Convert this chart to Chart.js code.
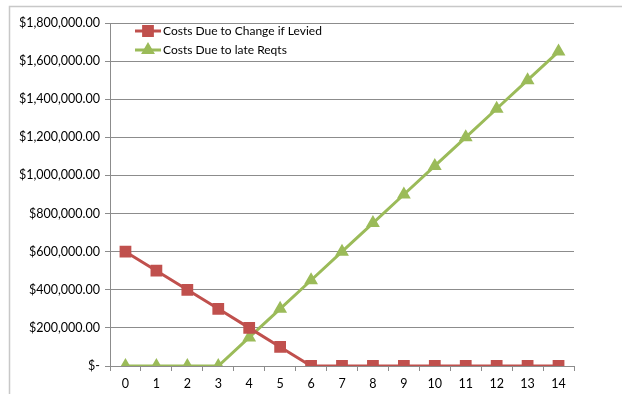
<!DOCTYPE html>
<html>
<head>
<meta charset="utf-8">
<script src="https://cdn.jsdelivr.net/npm/chart.js@4/dist/chart.umd.min.js"></script>
<style>
  html, body { margin: 0; padding: 0; background: #ffffff; }
  #wrap { position: relative; width: 622px; height: 394px; }
</style>
</head>
<body>
<div id="wrap"><canvas id="chart" width="622" height="394"></canvas></div>
<script>
// Periods (x-axis categories)
const periods = ['0','1','2','3','4','5','6','7','8','9','10','11','12','13','14'];

// Series values in dollars
const costsChangeLevied = [600000, 500000, 400000, 300000, 200000, 100000, 0, 0, 0, 0, 0, 0, 0, 0, 0];
const costsLateReqts    = [0, 0, 0, 0, 150000, 300000, 450000, 600000, 750000, 900000, 1050000, 1200000, 1350000, 1500000, 1650000];

// Series names
const seriesNames = ['Costs Due to Change if Levied', 'Costs Due to late Reqts'];

// Value axis range
const yMin = 0;
const yMax = 1800000;
const yStep = 200000;

const RED = '#C0504D';
const GREEN = '#9BBB59';
const GRID = '#8C8C8C';
const FONT = 'Lato, "Open Sans", sans-serif';

function money(v) {
  if (v === 0) return '$-';
  return '$' + v.toLocaleString('en-US', { minimumFractionDigits: 2, maximumFractionDigits: 2 });
}

// Frame around the chart (top and left edges) and the in-plot legend
const decorations = {
  id: 'decorations',
  beforeDraw(chart) {
    const ctx = chart.ctx;
    ctx.save();
    ctx.strokeStyle = '#C8C8C8';
    ctx.lineWidth = 1.5;
    ctx.beginPath();
    ctx.moveTo(9.5, 394);
    ctx.lineTo(9.5, 6.5);
    ctx.lineTo(622, 6.5);
    ctx.stroke();
    ctx.restore();
  },
  afterDatasetsDraw(chart) {
    const ctx = chart.ctx;
    ctx.save();
    const rows = [31, 50];
    chart.data.datasets.forEach((ds, i) => {
      const y = rows[i];
      ctx.strokeStyle = ds.borderColor;
      ctx.lineWidth = 3;
      ctx.beginPath();
      ctx.moveTo(135, y);
      ctx.lineTo(161, y);
      ctx.stroke();
      Chart.helpers.drawPoint(ctx, {
        pointStyle: ds.pointStyle,
        radius: ds.pointRadius,
        borderWidth: 1
      }, 148, y);
      ctx.fillStyle = ds.borderColor;
      ctx.fill();
      ctx.fillStyle = '#000000';
      ctx.font = '12px ' + FONT;
      ctx.textBaseline = 'middle';
      ctx.textAlign = 'left';
      ctx.fillText(ds.label, 163, y);
    });
    ctx.restore();
  }
};

new Chart(document.getElementById('chart'), {
  type: 'line',
  data: {
    labels: periods,
    datasets: [
      {
        label: seriesNames[0],
        data: costsChangeLevied,
        borderColor: RED,
        backgroundColor: RED,
        pointBackgroundColor: RED,
        pointBorderColor: RED,
        pointStyle: 'rect',
        pointRadius: 6.2,
        borderWidth: 3,
        tension: 0
      },
      {
        label: seriesNames[1],
        data: costsLateReqts,
        borderColor: GREEN,
        backgroundColor: GREEN,
        pointBackgroundColor: GREEN,
        pointBorderColor: GREEN,
        pointStyle: 'triangle',
        pointRadius: 5,
        borderWidth: 3,
        tension: 0
      }
    ]
  },
  options: {
    responsive: false,
    animation: false,
    layout: { padding: { left: 0, top: 23, right: 48, bottom: 0 } },
    plugins: {
      legend: { display: false },
      tooltip: { enabled: false }
    },
    scales: {
      x: {
        offset: true,
        grid: {
          offset: true,
          drawOnChartArea: false,
          drawTicks: true,
          tickLength: 5,
          color: GRID
        },
        border: { color: GRID, width: 1 },
        ticks: {
          color: '#000000',
          font: { family: FONT, size: 12.5 },
          padding: 5,
          maxRotation: 0,
          autoSkip: false
        },
        afterFit(scale) { scale.height = 28; }
      },
      y: {
        min: yMin,
        max: yMax,
        grid: {
          color: GRID,
          drawTicks: true,
          tickLength: 5
        },
        border: { color: GRID, width: 1 },
        ticks: {
          stepSize: yStep,
          color: '#000000',
          font: { family: FONT, size: 12.5 },
          padding: 5,
          callback: (v) => money(v)
        },
        afterFit(scale) { scale.width = 110; }
      }
    }
  },
  plugins: [decorations]
});
</script>
</body>
</html>
